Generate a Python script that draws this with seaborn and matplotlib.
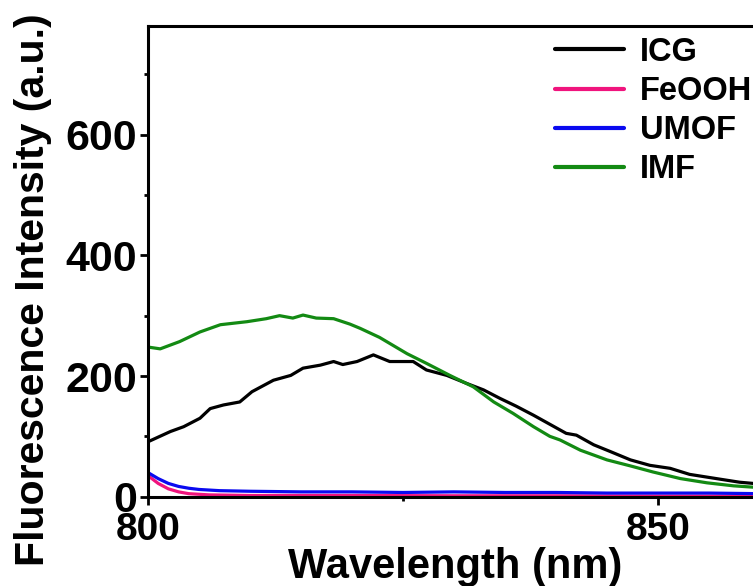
import numpy as np
import pandas as pd
import matplotlib
matplotlib.use("Agg")
import matplotlib.pyplot as plt
import seaborn as sns

# readings from the spectrum (wavelength nm, intensity a.u.)
icg_wl = [800, 802.2, 803.5, 805.1, 806.1, 807.4, 809, 810.2, 812.3, 814, 815.2, 816.9, 818.2,
          819.1, 820.5, 822.1, 823.7, 826, 827.3, 829.3, 831.2, 832.9, 834.5, 836.1, 837.8,
          839.4, 841, 842, 843.7, 845.3, 847.3, 849.2, 851.2, 853.1, 856.1, 858, 860]
icg_int = [91, 108, 116, 130, 146, 152, 157, 174, 193, 201, 213, 218, 224,
           219, 224, 235, 224, 224, 210, 201, 188, 177, 163, 150, 135,
           120, 105, 102, 86, 75, 61, 52, 47, 37, 29, 24, 21]

feooh_wl = [800, 801, 802, 803, 804, 806, 810, 820, 830, 840, 850, 860]
feooh_int = [35, 22, 13, 8, 5, 3, 2, 2, 1.5, 1.5, 1, 1]

umof_wl = [800, 801, 802, 803, 804, 805, 807, 810, 815, 820, 825, 830, 835, 840, 845, 850, 855, 860]
umof_int = [40, 30, 22, 17, 14, 12, 10, 9, 8, 8, 7, 8, 7, 7, 6, 6, 6, 5]

imf_wl = [800, 801.2, 803.1, 805.1, 807.1, 809.7, 811.6, 812.9, 814.2, 815.2, 816.5, 818.2,
          819.8, 820.8, 822.7, 825.4, 827.3, 829.6, 831.9, 833.9, 835.8, 837.8, 839.4,
          840.4, 842.4, 845, 847.3, 849.5, 852.2, 854.8, 857.4, 860]
imf_int = [248, 245, 257, 273, 285, 290, 295, 300, 296, 301, 296, 295,
           286, 279, 264, 237, 221, 201, 182, 157, 138, 116, 100,
           94, 77, 61, 51, 41, 30, 23, 18, 15]

names = ["ICG", "FeOOH", "UMOF", "IMF"]
colors = ["#000000", "#f0147d", "#0a0af0", "#138a13"]

df = pd.concat([
    pd.DataFrame({"wl": icg_wl, "I": icg_int, "sample": "ICG"}),
    pd.DataFrame({"wl": feooh_wl, "I": feooh_int, "sample": "FeOOH"}),
    pd.DataFrame({"wl": umof_wl, "I": umof_int, "sample": "UMOF"}),
    pd.DataFrame({"wl": imf_wl, "I": imf_int, "sample": "IMF"}),
])

sns.set_theme(style="ticks")
plt.rcParams["font.family"] = ["Liberation Sans", "DejaVu Sans"]
plt.rcParams["font.weight"] = "bold"

fig = plt.figure(figsize=(7.53, 5.86), dpi=100)
# axes run past the right edge of the picture, like the cropped original
ax = fig.add_axes([0.1965, 0.1524, 1.3546, 0.8032])

sns.lineplot(data=df, x="wl", y="I", hue="sample", hue_order=names,
             palette=colors, linewidth=2.3, ax=ax, legend=False, sort=False)

ax.set_xlim(800, 900)
ax.set_ylim(0, 780)
ax.set_xticks([800, 850])
ax.set_xticks([825, 875], minor=True)
ax.set_yticks([0, 200, 400, 600])
ax.set_yticks([100, 300, 500, 700], minor=True)

for s in ax.spines.values():
    s.set_linewidth(2.2)
    s.set_color("black")
ax.spines["right"].set_visible(False)
ax.tick_params(axis="both", which="major", direction="out", length=6, width=2,
               color="black", labelcolor="black")
ax.tick_params(axis="x", which="major", labelsize=28, pad=5)
ax.tick_params(axis="y", which="major", labelsize=31, pad=2)
ax.tick_params(axis="both", which="minor", direction="out", length=3, width=2, color="black")
for lab in ax.get_xticklabels() + ax.get_yticklabels():
    lab.set_fontweight("bold")

ax.set_xlabel("Wavelength (nm)", fontsize=30, fontweight="bold", color="black")
ax.set_ylabel("Fluorescence Intensity (a.u.)", fontsize=29.5, fontweight="bold", color="black")
ax.xaxis.set_label_coords(455 / 753, 1 - 547 / 586, transform=fig.transFigure)
ax.yaxis.set_label_coords(52 / 753, 1 - 290 / 586, transform=fig.transFigure)

leg = ax.legend(ax.lines, names, loc="upper left", bbox_to_anchor=(0.737, 0.937),
                bbox_transform=fig.transFigure, frameon=False, fontsize=23.5,
                handlelength=2.1, handletextpad=0.5, labelspacing=0.25,
                borderpad=0, borderaxespad=0)
for t in leg.get_texts():
    t.set_fontweight("bold")
    t.set_color("black")
for h in leg.get_lines():
    h.set_linewidth(3)

fig.savefig("out.png", dpi=100)
